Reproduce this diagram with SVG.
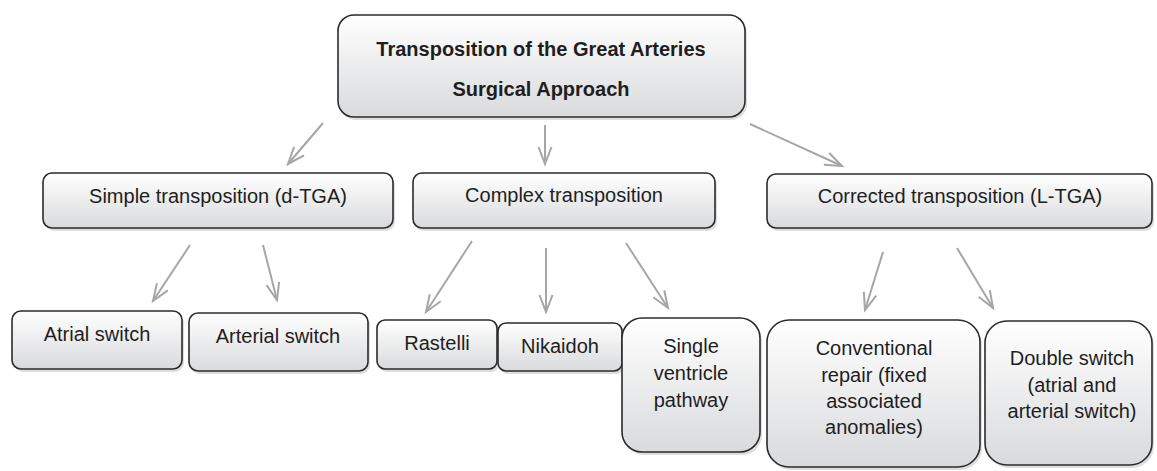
<svg xmlns="http://www.w3.org/2000/svg" width="1157" height="471" viewBox="0 0 1157 471">
<defs>
<linearGradient id="g" x1="0" y1="0" x2="0" y2="1">
<stop offset="0" stop-color="#ffffff"/>
<stop offset="1" stop-color="#d9dadc"/>
</linearGradient>
<marker id="ah" markerUnits="userSpaceOnUse" markerWidth="22" markerHeight="16" refX="18" refY="8" orient="auto" viewBox="0 0 22 16">
<path d="M1,1.5 L18,8 L1,14.5" fill="none" stroke="#a6a6a6" stroke-width="2"/>
</marker>
</defs>
<style>
.box{fill:url(#g);stroke:#2b2b2b;stroke-width:1.6}
.sh{fill:#c8c8c8;opacity:0.6}
.t{font-family:"Liberation Sans",Arial,sans-serif;font-size:20px;fill:#1e1e1e;text-anchor:middle}
.b{font-weight:bold}
.c{fill:none;stroke:#a6a6a6;stroke-width:2;marker-end:url(#ah)}
</style>
<rect width="1157" height="471" fill="#ffffff"/>
<g id="connectors">
<line class="c" x1="323" y1="123" x2="288" y2="164"/>
<line class="c" x1="545" y1="125" x2="545" y2="164"/>
<line class="c" x1="750" y1="124" x2="842" y2="166"/>
<line class="c" x1="190" y1="245" x2="153" y2="301"/>
<line class="c" x1="263" y1="245" x2="277" y2="300"/>
<line class="c" x1="472" y1="241" x2="426" y2="312"/>
<line class="c" x1="546" y1="248" x2="546" y2="312"/>
<line class="c" x1="626" y1="243" x2="668" y2="308"/>
<line class="c" x1="883" y1="252" x2="865" y2="310"/>
<line class="c" x1="957" y1="248" x2="993" y2="308"/>
</g>
<g id="top">
<rect class="sh" x="340" y="18" width="407" height="102" rx="16"/>
<rect class="box" x="338" y="15" width="407" height="102" rx="16"/>
<text class="t b" x="541" y="56">Transposition of the Great Arteries</text>
<text class="t b" x="541" y="96">Surgical Approach</text>
</g>
<g id="simple">
<rect class="sh" x="45" y="176" width="350" height="55" rx="9"/>
<rect class="box" x="43" y="173" width="350" height="55" rx="9"/>
<text class="t" x="218" y="203">Simple transposition (d-TGA)</text>
</g>
<g id="complex">
<rect class="sh" x="415" y="176" width="302" height="55" rx="9"/>
<rect class="box" x="413" y="173" width="302" height="55" rx="9"/>
<text class="t" x="564" y="202">Complex transposition</text>
</g>
<g id="corrected">
<rect class="sh" x="769" y="177" width="385" height="54" rx="9"/>
<rect class="box" x="767" y="174" width="385" height="54" rx="9"/>
<text class="t" x="960" y="203">Corrected transposition (L-TGA)</text>
</g>
<g id="atrial">
<rect class="sh" x="14" y="314" width="170" height="58" rx="9"/>
<rect class="box" x="12" y="311" width="170" height="58" rx="9"/>
<text class="t" x="97" y="341">Atrial switch</text>
</g>
<g id="arterial">
<rect class="sh" x="191" y="316" width="179" height="58" rx="9"/>
<rect class="box" x="189" y="313" width="179" height="58" rx="9"/>
<text class="t" x="278" y="343">Arterial switch</text>
</g>
<g id="rastelli">
<rect class="sh" x="379" y="323" width="120" height="49" rx="8"/>
<rect class="box" x="377" y="320" width="120" height="49" rx="8"/>
<text class="t" x="437" y="350">Rastelli</text>
</g>
<g id="nikaidoh">
<rect class="sh" x="500" y="326" width="124" height="48" rx="8"/>
<rect class="box" x="498" y="323" width="124" height="48" rx="8"/>
<text class="t" x="560" y="353">Nikaidoh</text>
</g>
<g id="single">
<rect class="sh" x="624" y="321" width="138" height="134" rx="20"/>
<rect class="box" x="622" y="318" width="138" height="134" rx="20"/>
<text class="t" x="691" y="353">Single</text>
<text class="t" x="691" y="380">ventricle</text>
<text class="t" x="691" y="407">pathway</text>
</g>
<g id="conventional">
<rect class="sh" x="769" y="323" width="213" height="147" rx="22"/>
<rect class="box" x="767" y="320" width="213" height="147" rx="22"/>
<text class="t" x="874" y="355">Conventional</text>
<text class="t" x="874" y="382">repair (fixed</text>
<text class="t" x="874" y="408">associated</text>
<text class="t" x="874" y="434">anomalies)</text>
</g>
<g id="double">
<rect class="sh" x="987" y="324" width="167" height="144" rx="22"/>
<rect class="box" x="985" y="321" width="167" height="144" rx="22"/>
<text class="t" x="1072" y="365">Double switch</text>
<text class="t" x="1072" y="392">(atrial and</text>
<text class="t" x="1072" y="418">arterial switch)</text>
</g>
</svg>
